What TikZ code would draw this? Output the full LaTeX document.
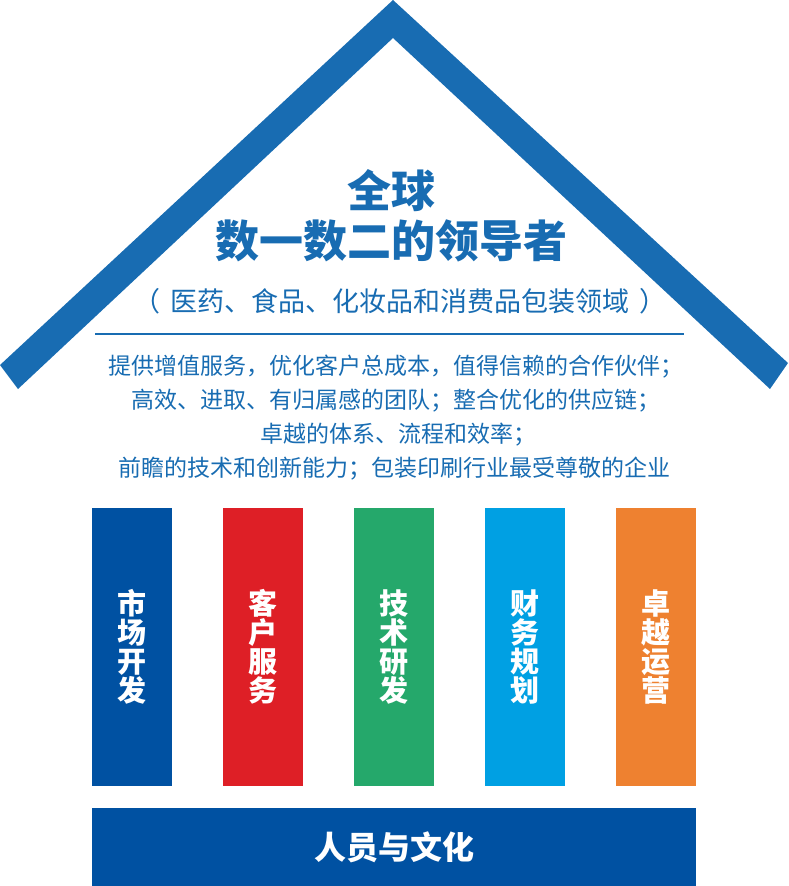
\documentclass[tikz,border=0pt]{standalone}
\usepackage{fontspec}
\newfontfamily\cjk{Noto Sans CJK SC}
\usepackage{tikz}
\usetikzlibrary{positioning}

\definecolor{roofblue}{RGB}{24,108,178}
\definecolor{pblue}{RGB}{0,81,162}
\definecolor{pred}{RGB}{222,31,38}
\definecolor{pgreen}{RGB}{37,168,107}
\definecolor{pcyan}{RGB}{0,160,227}
\definecolor{porange}{RGB}{238,129,48}

\begin{document}
\begin{tikzpicture}[x=1pt, y=-1pt,
  title/.style={text=roofblue, font=\cjk\bfseries\fontsize{44pt}{48pt}\selectfont, inner sep=0},
  body/.style={text=roofblue, font=\cjk\fontsize{23pt}{34pt}\selectfont, inner sep=0},
  pillar/.style={minimum width=80pt, minimum height=278pt, inner sep=0, text=white, align=center,
    font=\cjk\bfseries\fontsize{29pt}{29pt}\selectfont}]
\useasboundingbox (0,0) rectangle (788,886);

% roof
\coordinate (top) at (393,0);
\coordinate (ro) at (788,363);
\coordinate (rb) at (770,389);
\coordinate (in) at (393,38);
\coordinate (lb) at (18,389);
\coordinate (lo) at (0,365);
\fill[roofblue] (top) -- (ro) -- (rb) -- (in) -- (lb) -- (lo) -- cycle;

% headline
\node[title] (world) at (391,191) {全球};
\node[title] (leader) at (391,241) {数一数二的领导者};
\node[body, font=\cjk\fontsize{27pt}{30pt}\selectfont] (fields) at (400,301)
  {（\hspace{10pt}医药、食品、化妆品和消费品包装领域\hspace{10pt}）};

\coordinate (ll) at (95,334);
\coordinate (lr) at (684,334);
\draw[roofblue, line width=2.5pt] (ll) -- (lr);

\node[body] (v1) at (396,367) {提供增值服务，优化客户总成本，值得信赖的合作伙伴；};
\node[body] (v2) at (396,401) {高效、进取、有归属感的团队；整合优化的供应链；};
\node[body] (v3) at (398,435) {卓越的体系、流程和效率；};
\node[body] (v4) at (394,469) {前瞻的技术和创新能力；包装印刷行业最受尊敬的企业};

% pillars
\node[pillar, fill=pblue] (market) at (132,647) {市\\场\\开\\发};
\node[pillar, fill=pred] (service) at (263,647) {客\\户\\服\\务};
\node[pillar, fill=pgreen] (tech) at (394,647) {技\\术\\研\\发};
\node[pillar, fill=pcyan] (finance) at (525,647) {财\\务\\规\\划};
\node[pillar, fill=porange] (ops) at (656,647) {卓\\越\\运\\营};

% base
\node[fill=pblue, minimum width=604pt, minimum height=78pt, inner sep=0, text=white,
  font=\cjk\bfseries\fontsize{32pt}{32pt}\selectfont] (people) at (394,847) {人员与文化};
\end{tikzpicture}
\end{document}
